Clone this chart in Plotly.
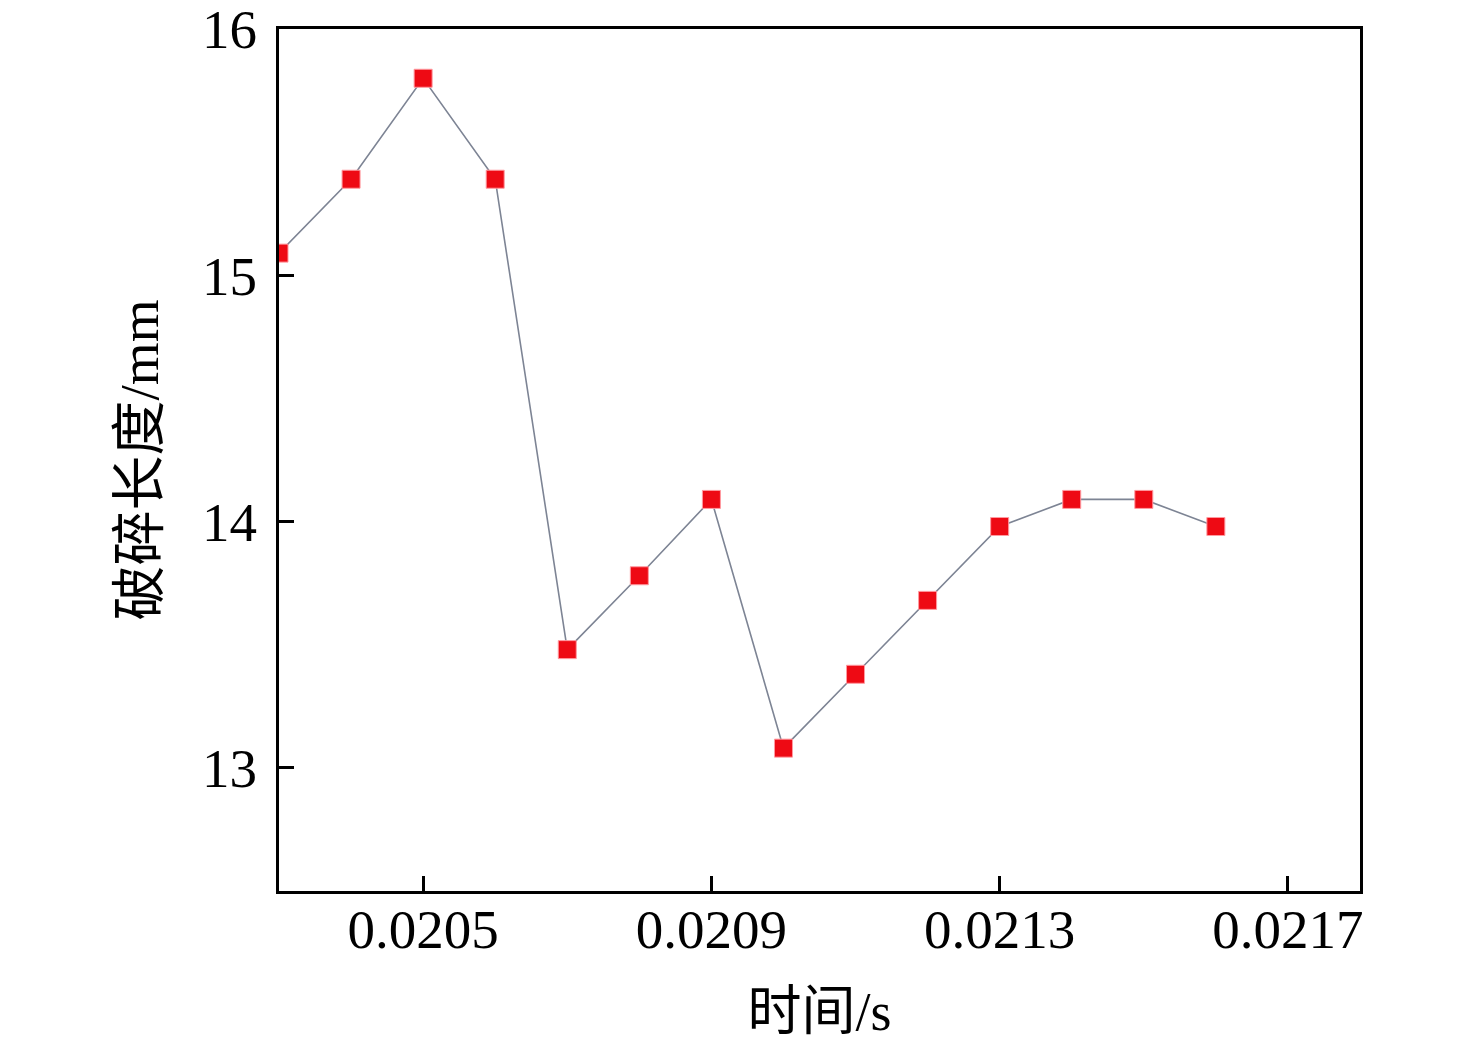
import plotly.graph_objects as go

# time (s) and fragment length (mm)
time_s = [0.0203, 0.0204, 0.0205, 0.0206, 0.0207, 0.0208, 0.0209,
          0.0210, 0.0211, 0.0212, 0.0213, 0.0214, 0.0215, 0.0216]
length_mm = [15.09, 15.39, 15.80, 15.39, 13.48, 13.78, 14.09,
             13.08, 13.38, 13.68, 13.98, 14.09, 14.09, 13.98]

x_ticks = [0.0205, 0.0209, 0.0213, 0.0217]
x_ticktext = ["0.0205", "0.0209", "0.0213", "0.0217"]
y_ticks = [13, 14, 15, 16]

serif = "Liberation Serif, Times New Roman, Noto Sans CJK SC, serif"

fig = go.Figure()
fig.add_trace(go.Scatter(
    x=time_s, y=length_mm, mode="lines+markers",
    line=dict(color="#7d8494", width=1.6),
    marker=dict(symbol="square", size=18, color="#ee0a14",
                line=dict(color="#ff9aa0", width=1)),
    showlegend=False))

fig.update_layout(
    width=1476, height=1045,
    margin=dict(l=271, r=124, t=21, b=162),
    plot_bgcolor="white", paper_bgcolor="white",
    font=dict(family=serif, size=55, color="black"),
)
fig.update_xaxes(
    range=[0.0203, 0.0218], tickvals=x_ticks, ticktext=x_ticktext,
    ticks="inside", ticklen=15, tickwidth=3, tickcolor="black",
    showline=True, linewidth=3, linecolor="black", mirror=True,
    showgrid=False, zeroline=False, automargin=False,
    title=dict(text="时间/s", font=dict(size=54), standoff=34),
    ticklabelstandoff=-12, ticklabeloverflow="allow",
)
fig.update_yaxes(
    range=[12.5, 16], tickvals=y_ticks,
    ticks="inside", ticklen=15, tickwidth=3, tickcolor="black",
    showline=True, linewidth=3, linecolor="black", mirror=True,
    showgrid=False, zeroline=False, automargin=False,
    title=dict(text="破碎长度/mm", font=dict(size=55), standoff=26),
    ticklabelstandoff=8, ticklabeloverflow="allow",
)

fig.write_html("out.html")
